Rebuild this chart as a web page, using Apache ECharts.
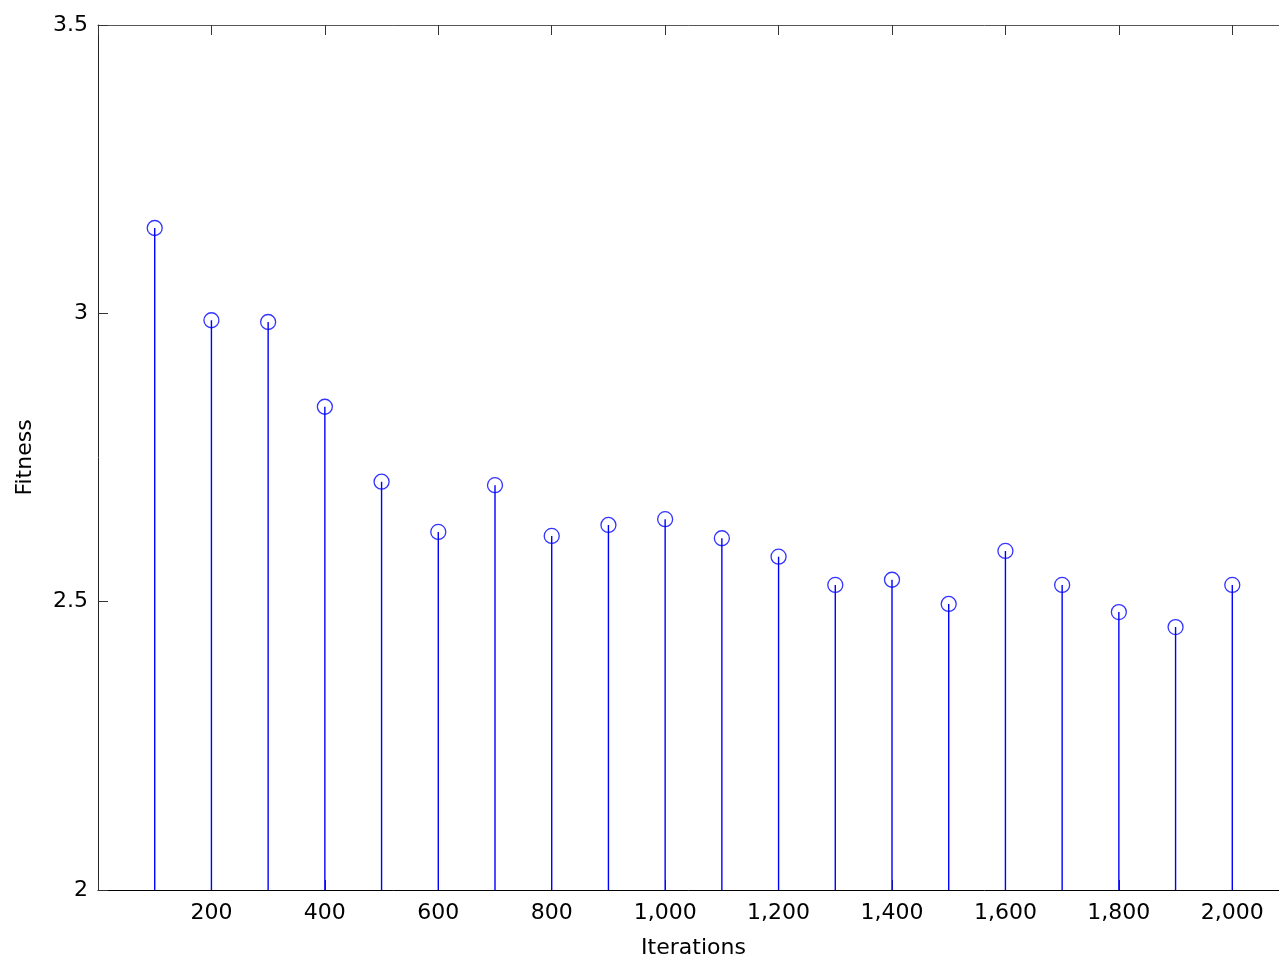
<!DOCTYPE html>
<html>
<head>
<meta charset="utf-8">
<title>Fitness vs Iterations</title>
<script src="https://cdn.jsdelivr.net/npm/echarts@6/dist/echarts.min.js"></script>
<style>
  html, body { margin: 0; padding: 0; background: #fff; overflow: hidden; }
  #main { width: 1279px; height: 957px; }
</style>
</head>
<body>
<div id="main"></div>
<script>
const iterations = [100, 200, 300, 400, 500, 600, 700, 800, 900, 1000,
  1100, 1200, 1300, 1400, 1500, 1600, 1700, 1800, 1900, 2000];
const fitness = [3.148, 2.988, 2.985, 2.838, 2.708, 2.621, 2.702, 2.614, 2.633, 2.643,
  2.610, 2.578, 2.529, 2.538, 2.496, 2.588, 2.529, 2.482, 2.456, 2.529];
const xTicks = [200, 400, 600, 800, 1000, 1200, 1400, 1600, 1800, 2000];
const yTicks = [2, 2.5, 3, 3.5];

const FONT = 'DejaVu Sans';
const BLUE = '#0000ff';
const Y_BASE = 2;

let points = iterations.map((x, i) => [x, fitness[i]]);

function xLabel(v) {
  if (xTicks.indexOf(v) < 0) return '';
  return v.toLocaleString('en-US');
}

function yLabel(v) {
  return yTicks.indexOf(v) < 0 ? '' : String(v);
}

function xAxisOf(pos, showLabels) {
  return {
    type: 'value',
    position: pos,
    min: 0,
    max: 2100,
    interval: 200,
    name: showLabels ? 'Iterations' : '',
    nameLocation: 'middle',
    nameGap: 47,
    nameTextStyle: { fontFamily: FONT, fontSize: 22, color: '#000' },
    axisLine: { show: true, onZero: false, lineStyle: { color: pos === 'bottom' ? '#000' : '#555', width: 1 } },
    axisTick: { show: true, inside: true, length: 10, lineStyle: { color: '#333' } },
    axisLabel: { show: showLabels, fontFamily: FONT, fontSize: 22, color: '#000', margin: 12, formatter: xLabel },
    splitLine: { show: false }
  };
}

function yAxisOf(pos, showLabels) {
  return {
    type: 'value',
    position: pos,
    min: 2,
    max: 3.5,
    interval: 0.5,
    name: showLabels ? 'Fitness' : '',
    nameLocation: 'middle',
    nameGap: 62,
    nameTextStyle: { fontFamily: FONT, fontSize: 22, color: '#000' },
    axisLine: { show: true, onZero: false, lineStyle: { color: pos === 'left' ? '#222' : '#555', width: 1 } },
    axisTick: { show: true, inside: true, length: 10, lineStyle: { color: '#333' } },
    axisLabel: { show: showLabels, fontFamily: FONT, fontSize: 22, color: '#000', margin: 10, formatter: yLabel },
    splitLine: { show: false }
  };
}

// stem: vertical line from the baseline up to the value
function renderStem(params, api) {
  const top = api.coord([api.value(0), api.value(1)]);
  const bottom = api.coord([api.value(0), Y_BASE]);
  return {
    type: 'line',
    shape: { x1: top[0], y1: bottom[1], x2: top[0], y2: top[1] },
    style: { stroke: BLUE, lineWidth: 1.4 }
  };
}

const chart = echarts.init(document.getElementById('main'), null, { renderer: 'canvas' });

chart.setOption({
  animation: false,
  backgroundColor: '#fff',
  // plot box runs past the right edge of the window, as in the source figure
  grid: { left: 98, top: 25, width: 1191, height: 865, containLabel: false, outerBoundsMode: 'none' },
  xAxis: [xAxisOf('bottom', true), xAxisOf('top', false)],
  yAxis: [yAxisOf('left', true), yAxisOf('right', false)],
  series: [
    {
      type: 'custom',
      xAxisIndex: 0,
      yAxisIndex: 0,
      renderItem: renderStem,
      encode: { x: 0, y: 1 },
      data: points
    },
    {
      type: 'scatter',
      xAxisIndex: 0,
      yAxisIndex: 0,
      symbol: 'circle',
      symbolSize: 15,
      itemStyle: { color: 'rgba(0,0,0,0)', borderColor: BLUE, borderWidth: 1.3 },
      data: points,
      z: 3
    }
  ]
});
</script>
</body>
</html>
